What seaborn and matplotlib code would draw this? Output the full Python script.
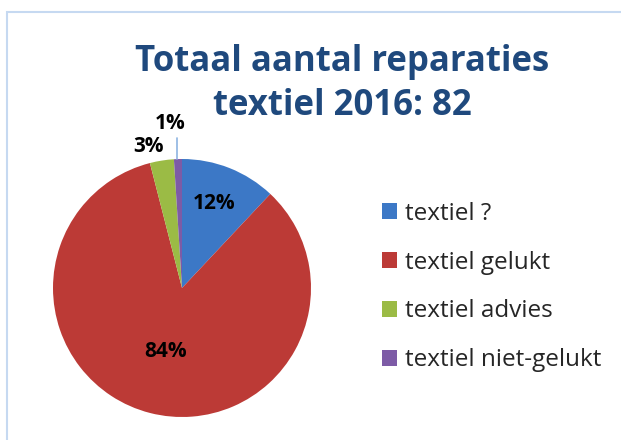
import numpy as np
import matplotlib
matplotlib.use("Agg")
import matplotlib.pyplot as plt
from matplotlib.patches import Rectangle, Patch
from matplotlib.lines import Line2D
import seaborn as sns

categories = ["textiel ?", "textiel gelukt", "textiel advies", "textiel niet-gelukt"]
percentages = [12, 84, 3, 1]
colors = ["#3C78C6", "#BC3A36", "#9BBB45", "#7D5BA6"]
title_lines = ["Totaal aantal reparaties", "textiel 2016: 82"]

sns.set_theme(style="white")
plt.rcParams['font.family'] = ['Open Sans', 'DejaVu Sans']

W, H = 621, 440
fig = plt.figure(figsize=(W / 100, H / 100), dpi=100)
ax = fig.add_axes([0, 0, 1, 1])
ax.set_axis_off()

# chart frame
fig.patches.append(Rectangle((7 / W, -0.1), 1.2, (H - 12) / H + 0.1, transform=fig.transFigure,
                             fill=False, edgecolor="#C6D9F1", linewidth=1.5))

cx, cy, r = 182, H - 288, 129
wedges, texts, autotexts = ax.pie(percentages, colors=colors, startangle=90, counterclock=False,
                                  center=(cx, cy), radius=r, autopct="%.0f%%",
                                  wedgeprops=dict(linewidth=0),
                                  textprops=dict(fontsize=15, fontweight="bold", color="black"))
ax.set_xlim(0, W)
ax.set_ylim(0, H)
ax.set_aspect("equal")

# label placement: (distance in radii, angle offset from slice middle in degrees)
placement = [(0.70, 1.0), (0.51, 0.0), (1.128, 4.5), (1.282, 2.2)]
for w, t, (d, off) in zip(wedges, autotexts, placement):
    mid = np.deg2rad((w.theta1 + w.theta2) / 2 + off)
    t.set_position((cx + d * r * np.cos(mid), cy + d * r * np.sin(mid)))

# leader line for smallest slice
w = wedges[3]
mid = np.deg2rad((w.theta1 + w.theta2) / 2)
x0 = cx + r * np.cos(mid) - 1
ax.add_line(Line2D([x0, x0], [cy + r, cy + r * 1.163], color="#8DB4E2", linewidth=1.2))

for line, yc in zip(title_lines, [62, 106]):
    fig.text(342 / W, 1 - yc / H, line, ha="center", va="center", fontsize=25, fontweight="bold",
             color="#1F497D", family=["Open Sans", "DejaVu Sans"])

handles = [Patch(facecolor=c, edgecolor="none") for c in colors]
leg = fig.legend(handles, categories, loc="upper left", bbox_to_anchor=(360 / W, 1 - 180 / H),
                 frameon=False, fontsize=17.5, handlelength=0.62, handleheight=0.62,
                 handletextpad=0.32, labelspacing=1.02)
for t in leg.get_texts():
    t.set_color("#262626")

fig.savefig("out.png", dpi=100)
